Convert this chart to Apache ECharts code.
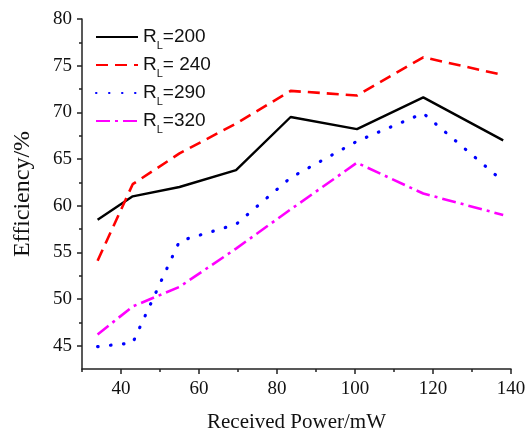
<!DOCTYPE html>
<html>
<head>
<meta charset="utf-8">
<script src="https://cdn.jsdelivr.net/npm/echarts@6/dist/echarts.min.js"></script>
<style>
html,body{margin:0;padding:0;background:#fff;}
#chart{width:527px;height:430px;}
</style>
</head>
<body>
<div id="chart"></div>
<script>
// Data
const receivedPower = [34, 43, 55, 69.5, 83.5, 100.5, 117.5, 138];
const effRL200 = [58.5, 61.0, 62.0, 63.8, 69.5, 68.2, 71.6, 67.0];
const effRL240 = [54.1, 62.3, 65.6, 68.8, 72.3, 71.8, 75.9, 74.0];
const effRL290 = [44.9, 45.3, 56.2, 58.0, 63.0, 66.9, 69.9, 62.6];
const effRL320 = [46.2, 49.2, 51.3, 55.4, 59.6, 64.6, 61.3, 59.0];
const seriesNames = ['RL200', 'RL240', 'RL290', 'RL320'];
const legendValueText = ['=200', '= 240', '=290', '=320'];
const xMajorTicks = [40, 60, 80, 100, 120, 140];
const xMinorTicks = [30, 50, 70, 90, 110, 130];
const yMajorTicks = [45, 50, 55, 60, 65, 70, 75, 80];
const yMinorTicks = [47.5, 52.5, 57.5, 62.5, 67.5, 72.5, 77.5];

const pairs = (ys) => receivedPower.map((x, i) => [x, ys[i]]);
const serif = 'Liberation Serif';
const axisColor = '#222';

const chart = echarts.init(document.getElementById('chart'));
chart.setOption({
  animation: false,
  backgroundColor: '#fff',
  textStyle: { fontFamily: serif },
  grid: { left: 82, right: 16, top: 19, bottom: 61, containLabel: false, outerBoundsMode: 'none' },
  legend: {
    orient: 'vertical',
    left: 90,
    top: 18,
    itemWidth: 42,
    itemHeight: 20,
    itemGap: 0,
    data: seriesNames,
    itemStyle: { opacity: 0 },
    formatter: function (name) {
      const i = seriesNames.indexOf(name);
      return '{r|R}{s|L}{r|' + legendValueText[i] + '}';
    },
    textStyle: {
      rich: {
        r: { fontFamily: 'Liberation Sans', fontSize: 19, color: '#111', lineHeight: 20 },
        s: { fontFamily: 'Liberation Sans', fontSize: 11, color: '#111', lineHeight: 5, padding: [17, 0, 0, 0] }
      }
    }
  },
  xAxis: [{
    type: 'value', min: 30, max: 140, interval: 10,
    name: 'Received Power/mW', nameLocation: 'middle', nameGap: 43,
    nameTextStyle: { fontFamily: serif, fontSize: 21, color: '#111' },
    axisLine: { show: true, onZero: false, lineStyle: { color: axisColor, width: 1.5 } },
    axisTick: { show: true, inside: false, length: 5, customValues: xMajorTicks, lineStyle: { color: axisColor, width: 1.5 } },
    axisLabel: { customValues: xMajorTicks, margin: 11, fontFamily: serif, fontSize: 19, color: '#111' },
    splitLine: { show: false }
  }, {
    type: 'value', min: 30, max: 140, interval: 10, position: 'bottom', gridIndex: 0,
    axisLine: { show: false },
    axisTick: { show: true, length: 3, customValues: xMinorTicks, lineStyle: { color: axisColor, width: 1.5 } },
    axisLabel: { show: false },
    splitLine: { show: false }
  }],
  yAxis: [{
    type: 'value', min: 42.5, max: 80, interval: 2.5,
    name: 'Efficiency/%', nameLocation: 'middle', nameGap: 47, nameRotate: 90,
    nameTextStyle: { fontFamily: serif, fontSize: 24, color: '#111' },
    axisLine: { show: true, onZero: false, lineStyle: { color: axisColor, width: 1.5 } },
    axisTick: { show: true, length: 5, customValues: yMajorTicks, lineStyle: { color: axisColor, width: 1.5 } },
    axisLabel: { customValues: yMajorTicks, margin: 10, fontFamily: serif, fontSize: 19, color: '#111' },
    splitLine: { show: false }
  }, {
    type: 'value', min: 42.5, max: 80, interval: 2.5, position: 'left', gridIndex: 0,
    axisLine: { show: false },
    axisTick: { show: true, length: 3, customValues: yMinorTicks, lineStyle: { color: axisColor, width: 1.5 } },
    axisLabel: { show: false },
    splitLine: { show: false }
  }],
  series: [
    { name: 'RL200', type: 'line', data: pairs(effRL200), symbol: 'none', lineStyle: { color: '#000', width: 2.4, type: 'solid' }, itemStyle: { color: '#000' } },
    { name: 'RL240', type: 'line', data: pairs(effRL240), symbol: 'none', lineStyle: { color: '#ff0000', width: 2.6, type: [12, 7] }, itemStyle: { color: '#ff0000' } },
    { name: 'RL290', type: 'line', data: pairs(effRL290), symbol: 'none', lineStyle: { color: '#0000ff', width: 3.2, type: [0.5, 12.5], cap: 'round' }, itemStyle: { color: '#0000ff' } },
    { name: 'RL320', type: 'line', data: pairs(effRL320), symbol: 'none', lineStyle: { color: '#ff00ff', width: 2.6, type: [14, 5, 3, 5] }, itemStyle: { color: '#ff00ff' } }
  ]
});
</script>
</body>
</html>
